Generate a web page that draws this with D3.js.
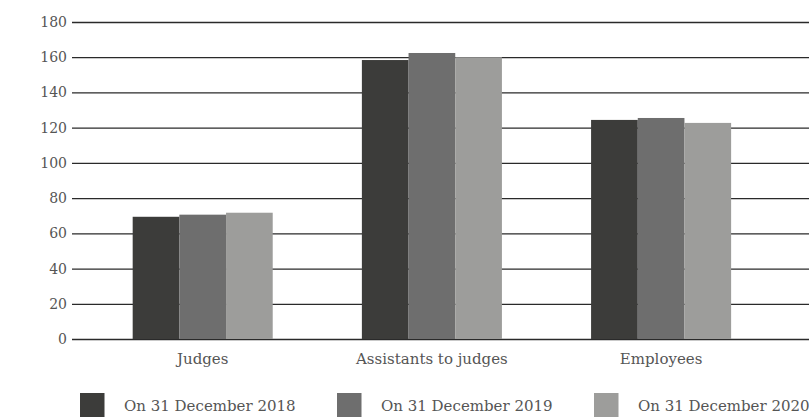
<!DOCTYPE html>
<html><head><meta charset="utf-8">
<script src="https://cdn.jsdelivr.net/npm/d3@7"></script>
<style>body{margin:0;background:#fff;overflow:hidden}svg{display:block}</style>
</head><body>
<script>
const categories = ["Judges", "Assistants to judges", "Employees"];
const seriesNames = ["On 31 December 2018", "On 31 December 2019", "On 31 December 2020"];
const values2018 = [69.4, 158.4, 124.4];
const values2019 = [70.6, 162.4, 125.5];
const values2020 = [71.7, 160, 122.7];
const yTicks = [0, 20, 40, 60, 80, 100, 120, 140, 160, 180];
const colors = ["#3c3c3a", "#6e6e6e", "#9d9d9b"];

const series = [values2018, values2019, values2020];
const W = 809, H = 417;
const svg = d3.select("body").append("svg").attr("width", W).attr("height", H);
const font = "DejaVu Serif";

const y = d3.scaleLinear().domain([0, 180]).range([339, 22]);
const x0 = d3.scaleBand().domain(categories).range([88.1, 775.7]).paddingInner(0.389).paddingOuter(0.1945);
const x1 = d3.scaleBand().domain([0, 1, 2]).range([0, x0.bandwidth()]);

// grid / axis
const yAxis = d3.axisLeft(y).tickValues(yTicks).tickSize(-(W - 72)).tickPadding(5).tickSizeOuter(0);
const ga = svg.append("g").attr("transform", "translate(72,0)").call(yAxis);
ga.select(".domain").remove();
ga.selectAll(".tick line").attr("stroke", "#2a2a2a").attr("stroke-width", 1.3);
ga.selectAll(".tick text").attr("font-family", font).attr("font-size", 14).attr("fill", "#555").attr("x", -5);

// bars
const g = svg.append("g");
categories.forEach((c, ci) => {
  series.forEach((s, si) => {
    g.append("rect")
      .attr("x", x0(c) + x1(si))
      .attr("y", y(s[ci]))
      .attr("width", x1.bandwidth())
      .attr("height", y(0) - y(s[ci]))
      .attr("fill", colors[si]);
  });
});

// category labels
const xAxis = d3.axisBottom(x0).tickSize(0).tickPadding(14);
const gx = svg.append("g").attr("transform", "translate(0,339)").call(xAxis);
gx.select(".domain").remove();
gx.selectAll(".tick text").attr("font-family", font).attr("font-size", 15).attr("fill", "#555");

// legend
const legX = d3.scalePoint().domain(seriesNames).range([80, 594]);
const lg = svg.append("g");
seriesNames.forEach((n, i) => {
  const lx = legX(n);
  lg.append("rect").attr("x", lx).attr("y", 393).attr("width", 24.5).attr("height", 24).attr("fill", colors[i]);
  lg.append("text").attr("x", lx + 44).attr("y", 410.5).text(n)
    .attr("font-family", font).attr("font-size", 15).attr("fill", "#555");
});
</script>
</body></html>
